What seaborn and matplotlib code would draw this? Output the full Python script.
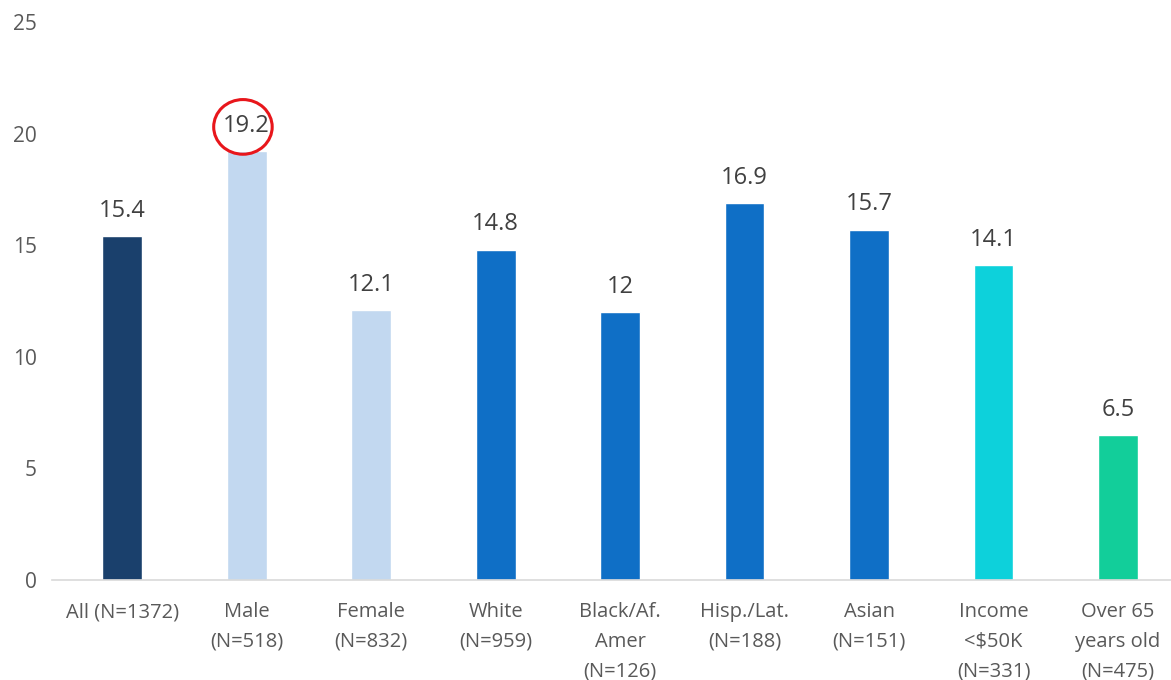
import matplotlib
matplotlib.use("Agg")
import matplotlib.pyplot as plt
from matplotlib.patches import Ellipse
import seaborn as sns
import pandas as pd

# Survey groups and their values
groups = ["All (N=1372)", "Male\n(N=518)", "Female\n(N=832)", "White\n(N=959)",
          "Black/Af.\nAmer\n(N=126)", "Hisp./Lat.\n(N=188)", "Asian\n(N=151)",
          "Income\n<$50K\n(N=331)", "Over 65\nyears old\n(N=475)"]
values = [15.4, 19.2, 12.1, 14.8, 12, 16.9, 15.7, 14.1, 6.5]
value_labels = ["15.4", "19.2", "12.1", "14.8", "12", "16.9", "15.7", "14.1", "6.5"]
bar_colors = ["#1A406C", "#C2D8F0", "#C2D8F0", "#0F6FC6", "#0F6FC6",
              "#0F6FC6", "#0F6FC6", "#0DD1DB", "#12CE9A"]
y_ticks = [0, 5, 10, 15, 20, 25]
highlight = "Male\n(N=518)"

sns.set_theme(style="white")
plt.rcParams["font.family"] = ["Open Sans", "DejaVu Sans"]

df = pd.DataFrame({"group": groups, "value": values})

fig = plt.figure(figsize=(11.71, 6.8), dpi=100)
ax = fig.add_axes([52 / 1171, 100 / 680, 1 - 52 / 1171, 558 / 680])

sns.barplot(data=df, x="group", y="value", hue="group", palette=bar_colors,
            width=0.32, legend=False, ax=ax, saturation=1)

text_color = "#595959"
for i, (v, lab) in enumerate(zip(values, value_labels)):
    ax.annotate(lab, (i, v), xytext=(0, 9.5), textcoords="offset points",
                ha="center", va="bottom", fontsize=17, color="#404040")

# Red circle around the highlighted value
hi = groups.index(highlight)
ax.add_patch(Ellipse((hi - 0.03, values[hi] + 1.1), width=0.47, height=2.45,
                     fill=False, edgecolor="#E8161B", linewidth=2.2,
                     clip_on=False))

ax.set_ylim(0, 25)
ax.set_xlim(-0.564, 8.426)
ax.set_yticks(y_ticks)
ax.set_yticklabels([str(t) for t in y_ticks])
ax.tick_params(axis="y", length=0, pad=11, labelsize=15, labelcolor=text_color)
ax.tick_params(axis="x", length=0, pad=16, labelsize=14.5, labelcolor=text_color)
for lab in ax.get_xticklabels():
    lab.set_multialignment("center")
    lab.set_linespacing(1.65)
ax.set_xlabel("")
ax.set_ylabel("")
for s in ["top", "right", "left"]:
    ax.spines[s].set_visible(False)
ax.spines["bottom"].set_color("#D9D9D9")
ax.spines["bottom"].set_linewidth(1.2)

fig.savefig("out.png", dpi=100)
